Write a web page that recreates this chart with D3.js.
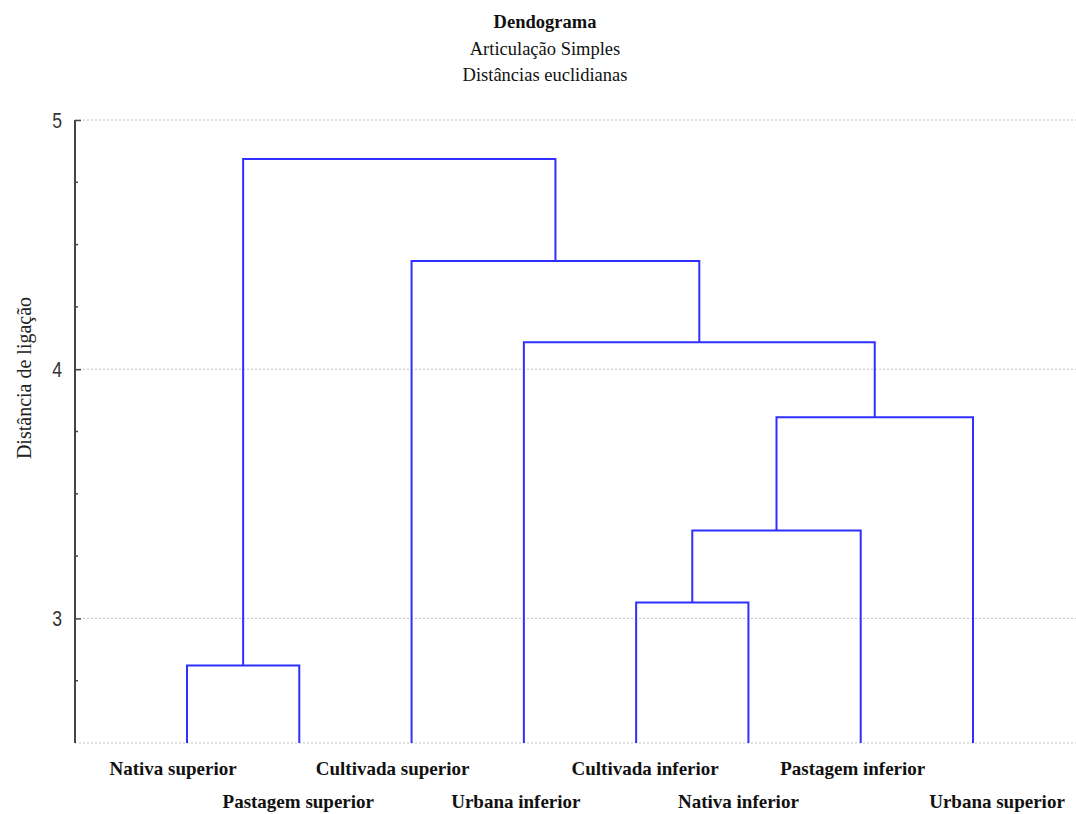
<!DOCTYPE html>
<html>
<head>
<meta charset="utf-8">
<script src="https://cdn.jsdelivr.net/npm/d3@7"></script>
<style>
  html, body { margin: 0; padding: 0; background: #fff; }
  svg { display: block; }
</style>
</head>
<body>
<svg id="chart" width="1076" height="814"></svg>
<script>
// Leaves in display order (left to right)
const leaves = [
  "Nativa superior", "Pastagem superior", "Cultivada superior", "Urbana inferior",
  "Cultivada inferior", "Nativa inferior", "Pastagem inferior", "Urbana superior"
];
// Merge steps: negative = leaf (1-based), positive = earlier merge (1-based)
const mergeLeft  = [-1, -5, 2, 3, -4, -3, 1];
const mergeRight = [-2, -6, -7, -8, 4, 5, 6];
const mergeHeight = [2.811, 3.064, 3.353, 3.807, 4.108, 4.434, 4.843];
const yTicks = [3, 4, 5];
const yMinorTicks = [2.75, 3.25, 3.5, 3.75, 4.25, 4.5, 4.75];
const titleLines = ["Dendograma", "Articulação Simples", "Distâncias euclidianas"];
const yLabel = "Distância de ligação";

const svg = d3.select("#chart");
const axisX = 75, plotRight = 1076;
const y = d3.scaleLinear().domain([2.5, 5]).range([743, 120]);
const x = d3.scalePoint().domain(leaves).range([187, 973]);
const serif = "'Liberation Serif', 'Times New Roman', serif";

// Title
svg.append("g").selectAll("text").data(titleLines).join("text")
  .attr("x", 545).attr("y", (d, i) => 28 + i * 26.5)
  .attr("text-anchor", "middle")
  .attr("font-family", serif)
  .attr("font-size", 18.5)
  .attr("font-weight", (d, i) => i === 0 ? "bold" : "normal")
  .attr("fill", "#111")
  .text(d => d);

// Dotted grid lines at major ticks and baseline
svg.append("g").selectAll("line").data([2.5, ...yTicks]).join("line")
  .attr("x1", axisX).attr("x2", plotRight)
  .attr("y1", d => y(d)).attr("y2", d => y(d))
  .attr("stroke", "#c4c4c4").attr("stroke-width", 1)
  .attr("stroke-dasharray", "2,2");

// Y axis
const axis = d3.axisRight(y).tickValues(yTicks).tickSize(6).tickFormat("");
const ag = svg.append("g").attr("transform", `translate(${axisX},0)`).call(axis);
ag.select(".domain").remove();
ag.selectAll(".tick line").attr("stroke", "#444").attr("stroke-width", 1.5);
svg.append("line")
  .attr("x1", axisX).attr("x2", axisX)
  .attr("y1", y(5)).attr("y2", y(2.5))
  .attr("stroke", "#444").attr("stroke-width", 2);
svg.append("g").selectAll("line").data(yMinorTicks).join("line")
  .attr("x1", axisX).attr("x2", axisX + 3)
  .attr("y1", d => y(d)).attr("y2", d => y(d))
  .attr("stroke", "#444").attr("stroke-width", 1.5);
svg.append("g").selectAll("text").data(yTicks).join("text")
  .attr("transform", d => `translate(62,${y(d) + 8}) scale(0.8,1)`)
  .attr("text-anchor", "end")
  .attr("font-family", "'Liberation Sans', Arial, sans-serif")
  .attr("font-size", 22)
  .attr("fill", "#333")
  .text(d => d);

// Y axis title
svg.append("text")
  .attr("transform", "translate(31,378) rotate(-90)")
  .attr("text-anchor", "middle")
  .attr("font-family", serif)
  .attr("font-size", 20)
  .attr("fill", "#222")
  .text(yLabel);

// Dendrogram links
const nodes = [];
function pos(ref) {
  if (ref < 0) return { x: x(leaves[-ref - 1]), h: 2.5 };
  return nodes[ref - 1];
}
const links = svg.append("g")
  .attr("fill", "none").attr("stroke", "#2f2fff").attr("stroke-width", 2);
mergeHeight.forEach((h, i) => {
  const a = pos(mergeLeft[i]), b = pos(mergeRight[i]);
  const path = d3.path();
  path.moveTo(a.x, y(a.h));
  path.lineTo(a.x, y(h));
  path.lineTo(b.x, y(h));
  path.lineTo(b.x, y(b.h));
  links.append("path").attr("d", path.toString());
  nodes.push({ x: (a.x + b.x) / 2, h });
});

// Leaf labels, staggered on two rows
const labelShift = [-14, -1, -19, -8, 9, -10, -8, 24];
svg.append("g").selectAll("text").data(leaves).join("text")
  .attr("x", (d, i) => x(d) + labelShift[i])
  .attr("y", (d, i) => i % 2 === 0 ? 775 : 808)
  .attr("text-anchor", "middle")
  .attr("font-family", serif)
  .attr("font-size", 19)
  .attr("font-weight", "bold")
  .attr("fill", "#111")
  .text(d => d);
</script>
</body>
</html>
